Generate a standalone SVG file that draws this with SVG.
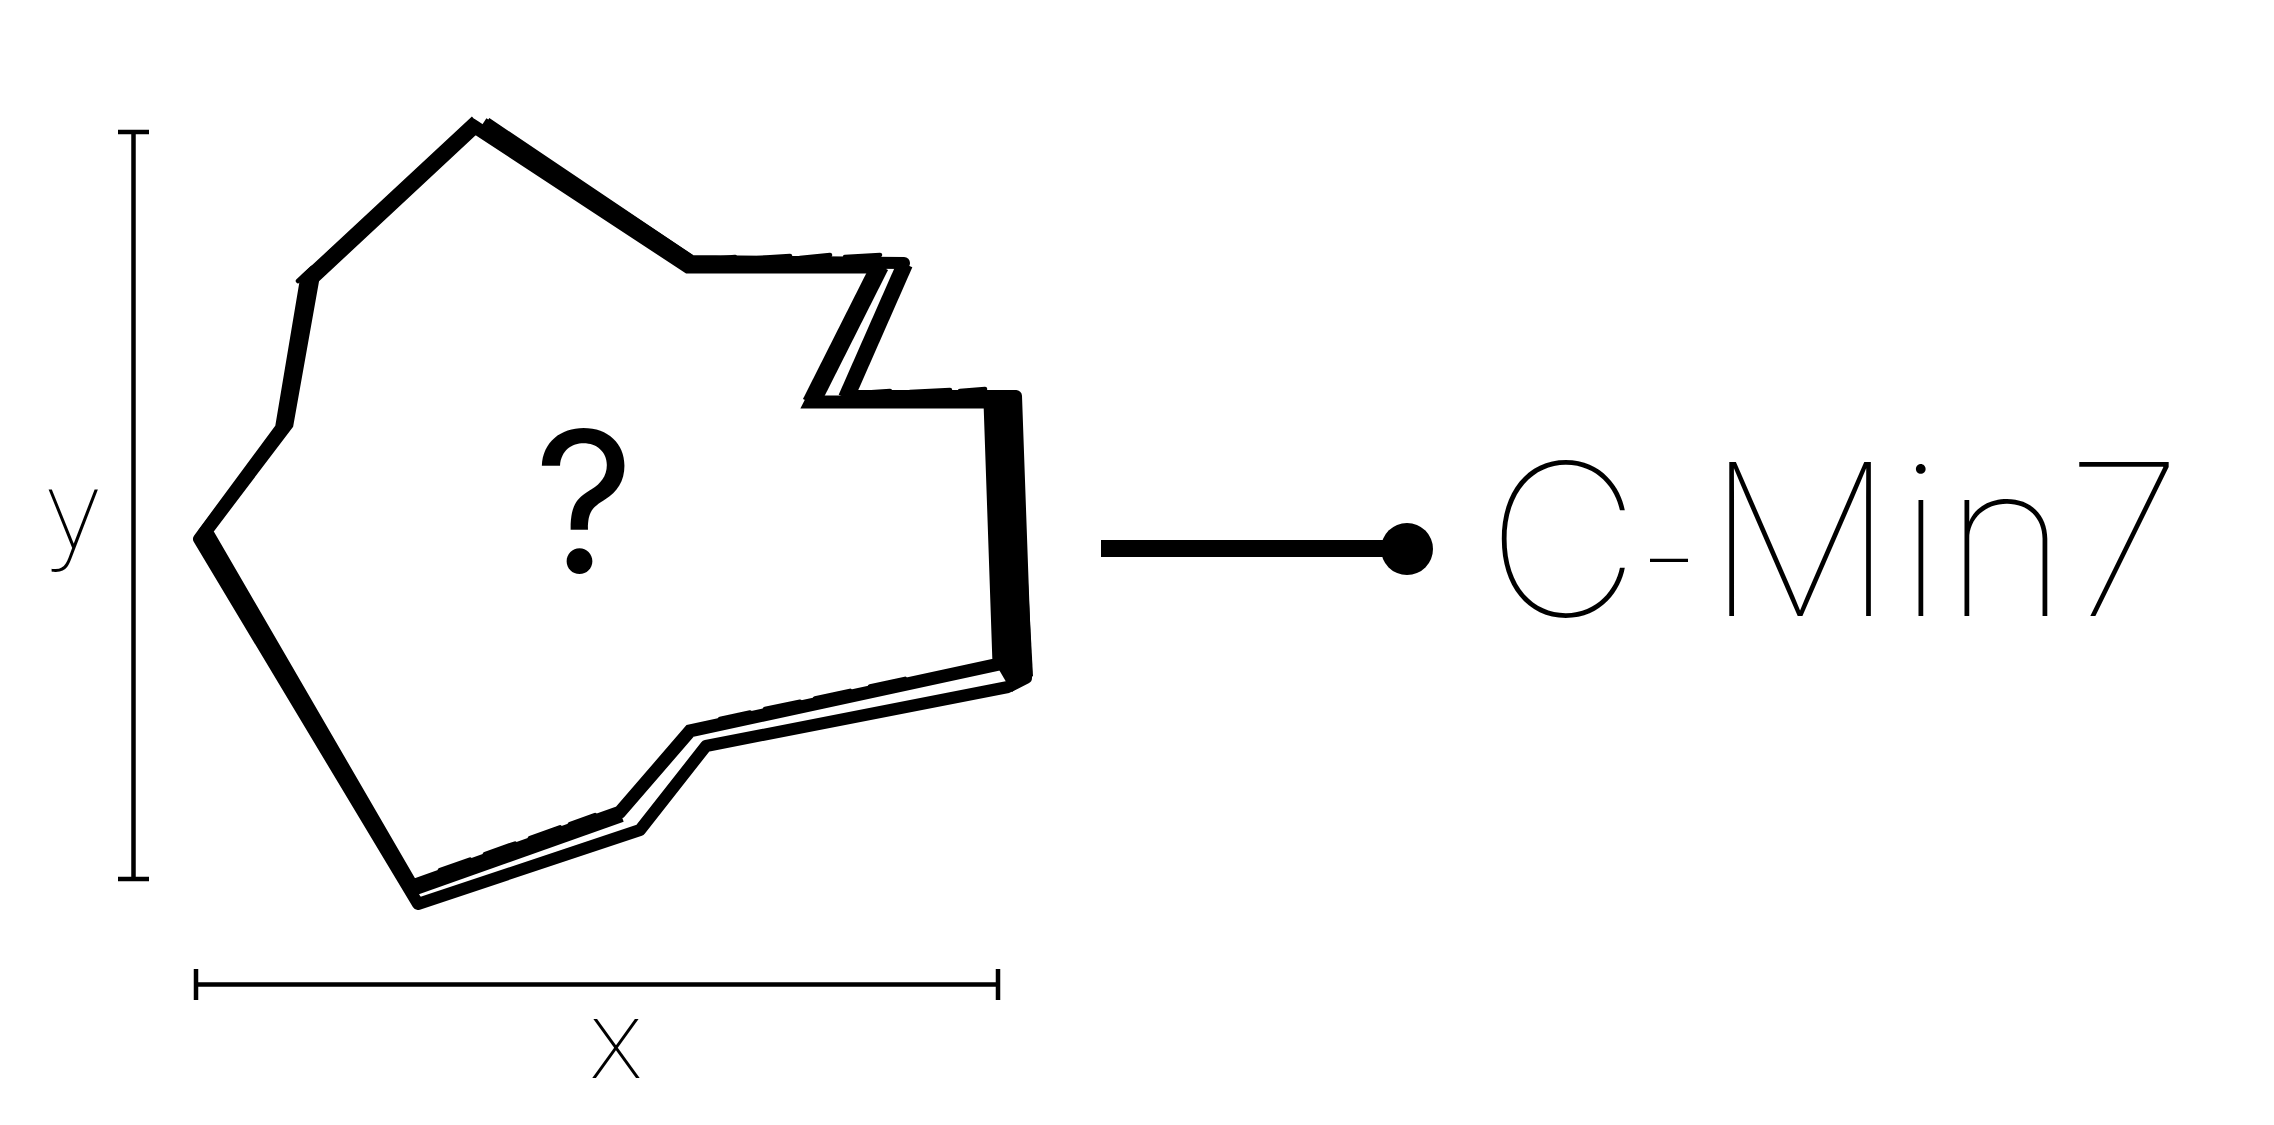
<svg xmlns="http://www.w3.org/2000/svg" width="2274" height="1125" viewBox="0 0 2274 1125">
<style>
.ink{fill:none;stroke:#000;stroke-linejoin:miter;stroke-miterlimit:6}
.p1{stroke-width:13}
.p2{stroke-width:12;stroke-linejoin:round}
.scr{fill:none;stroke:#000;stroke-width:4.5;stroke-linecap:round}
.dim{fill:none;stroke:#000;stroke-width:4.5}
.thin{font-family:Inter,Roboto,"Liberation Sans",sans-serif;font-weight:100;fill:#000}
.lab{font-family:Roboto,Inter,"Liberation Sans",sans-serif;font-weight:100;fill:#000}
.q{font-family:Inter,Roboto,"Liberation Sans",sans-serif;font-weight:400;fill:#000}
</style>
<rect width="2274" height="1125" fill="#fff"/>
<g id="dim-y">
<path class="dim" d="M133.5 132V879M118 132H149M118 879H149"/>
<text class="lab" x="73" y="548" font-size="112" text-anchor="middle">y</text>
</g>
<g id="dim-x">
<path class="dim" d="M196 984.5H998M196 969V1000M998 969V1000"/>
<text class="lab" x="616" y="1078" font-size="112" text-anchor="middle">x</text>
</g>
<g id="shape">
<path class="ink p1" d="M475 127L688 267L880 267L811 402L990 402L999 664L690 731L620 812L412 886L206 531L287 424L313 278Z"/>
<path class="ink p2" d="M486 123L691 261L904 263L848 396L1016 396L1026 678L1008 687L706 746L640 830L418 904L199 539L281 428L306 279L476 121"/>
<path class="ink" stroke-width="16" d="M482 125L689 262"/>
<path class="ink" stroke-width="10" d="M413 891L622 817"/>
<path class="ink" stroke-width="18" d="M880 266L811 403"/>
<path class="ink" stroke-width="16" d="M905 264L846 398"/>
<path d="M990 398L1018 396L1033 676L1012 692L998 668Z" fill="#000"/>
<path class="scr" d="M700 260L735 257M745 259L790 256M800 258L830 255M845 257L880 255M760 259L800 258M298 281L312 268M330 252L345 240M355 233L365 224M378 213L395 198M410 186L428 170M440 160L458 144M440 870L470 859.5M485 854L515 843.5M530 838L560 827.4M570 824L595 815M720 719L750 712.5M765 709L800 701.7M815 698.5L850 690.9M870 686.5L905 678.9M860 393L890 391M910 392L950 390M960 391L985 389"/>
</g>
<text class="q" x="584" y="573" font-size="196" text-anchor="middle">?</text>
<g id="connectors">
<line x1="1101" y1="548.5" x2="1400" y2="548.5" stroke="#000" stroke-width="17"/>
<circle cx="1407" cy="549" r="26" fill="#000"/>
</g>
<g id="label">
<text class="thin" y="616" font-size="212" text-anchor="middle"><tspan x="1563">C</tspan><tspan x="1669" dy="-12" font-size="140">-</tspan><tspan x="1800" dy="12">M</tspan><tspan x="1921">i</tspan><tspan x="2006">n</tspan><tspan x="2124">7</tspan></text>
</g>
</svg>
